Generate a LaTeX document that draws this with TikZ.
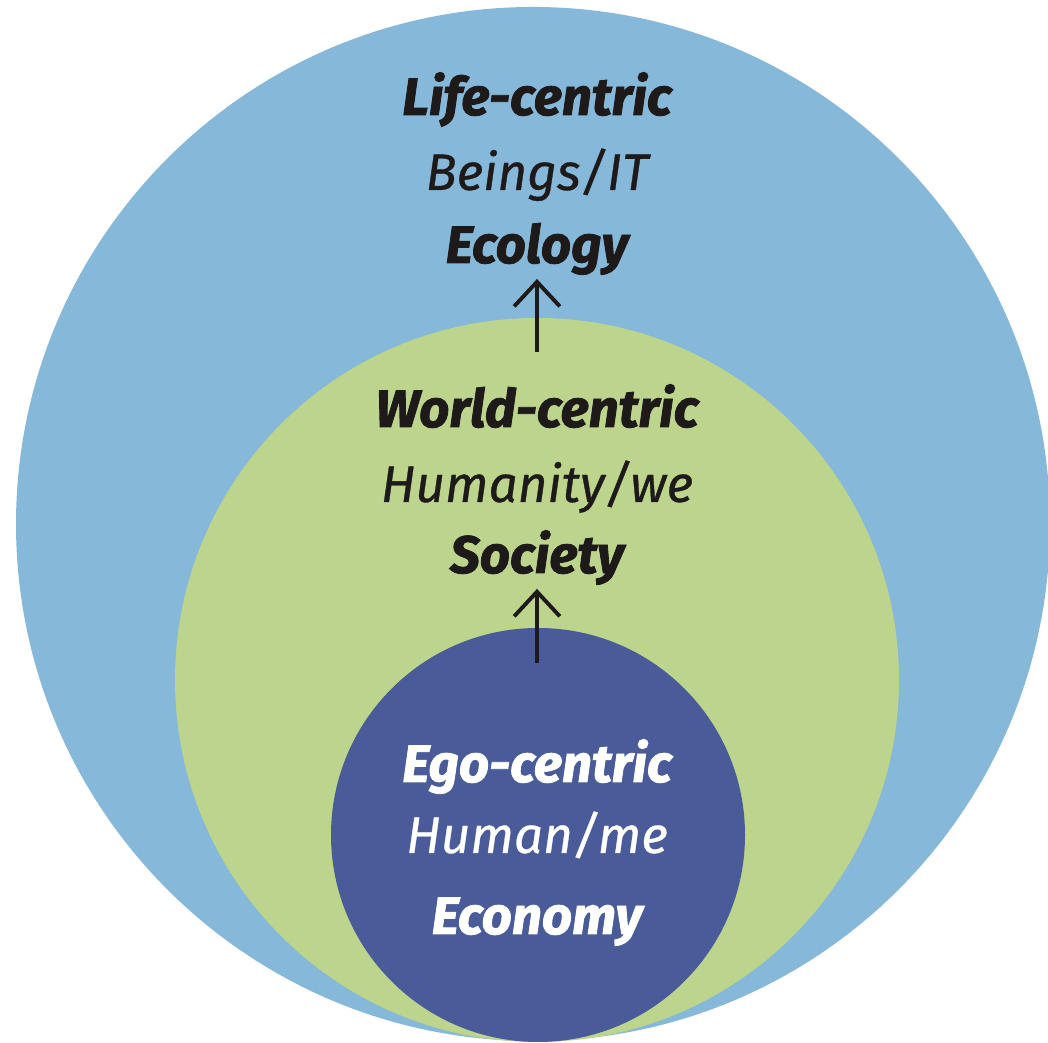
\documentclass[tikz,border=0pt]{standalone}
\usepackage{fontspec}
\setmainfont{Fira Sans}[BoldItalicFeatures={FakeBold=1.6}, ItalicFeatures={FakeBold=0.6}]
\usetikzlibrary{arrows.meta}
\definecolor{lifeblue}{HTML}{85B8D9}
\definecolor{worldgreen}{HTML}{BDD48C}
\definecolor{egoblue}{HTML}{4A5B99}
\definecolor{inkblack}{HTML}{1E1A1A}
\tikzset{
  head/.style={anchor=base, inner sep=1pt, font=\fontsize{15}{18}\selectfont\bfseries\itshape},
  sub/.style={anchor=base, inner sep=1pt, font=\fontsize{14.6}{18}\selectfont\itshape},
  uparrow/.style={-{Straight Barb[length=7pt,width=13pt,line width=1.1pt]}, line width=1.1pt, draw=inkblack}
}
\begin{document}
\begin{tikzpicture}
  \useasboundingbox (0,0) rectangle (10.48,10.43);
  % three circles, touching at the bottom
  \fill[lifeblue] (5.33,5.19) circle (5.17);
  \fill[worldgreen] (5.37,3.63) circle (3.62);
  \fill[egoblue] (5.38,2.08) circle (2.07);
  \begin{scope}[text=inkblack]
    \node[head] (life) at (5.37,9.28) {Life-centric};
    \node[sub] (beings) at (5.37,8.53) {Beings/IT};
    \node[head] (ecology) at (5.37,7.80) {Ecology};
    \node[head] (world) at (5.37,6.16) {World-centric};
    \node[sub] (humanity) at (5.37,5.41) {Humanity/we};
    \node[head] (society) at (5.37,4.70) {Society};
  \end{scope}
  \begin{scope}[text=white]
    \node[head] (ego) at (5.37,2.61) {Ego-centric};
    \node[sub] (human) at (5.37,1.90) {Human/me};
    \node[head] (economy) at (5.37,1.09) {Economy};
  \end{scope}
  \coordinate (worldtop) at (5.37,6.91);
  \coordinate (egotop) at (5.37,3.80);
  \draw[uparrow] (worldtop) -- (ecology.south);
  \draw[uparrow] (egotop) -- (society.south);
\end{tikzpicture}
\end{document}
